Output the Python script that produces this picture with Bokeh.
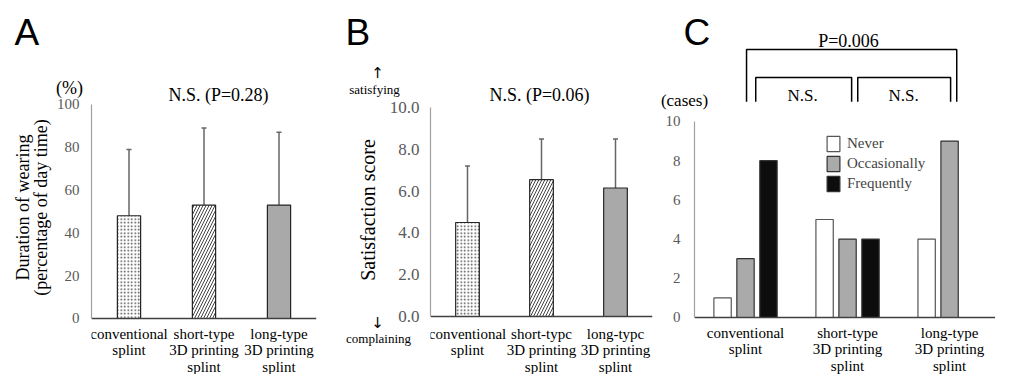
from bokeh.plotting import figure
from bokeh.models import Range1d, FixedTicker, Whisker, TeeHead, ColumnDataSource, PrintfTickFormatter
from bokeh.layouts import row, column
from bokeh.embed import file_html
from bokeh.resources import INLINE
from bokeh.transform import dodge
from bokeh.core.properties import value

SERIF = "Liberation Serif"
SANS = "Liberation Sans"

# ---------------- data ----------------
cat_labels_a = ["conventional\nsplint", "short-type\n3D printing\nsplint", "long-type\n3D printing\nsplint"]
cat_labels_b = ["conventional\nsplint", "short-typc\n3D printing\nsplint", "long-typc\n3D printing\nsplint"]

# A: duration of wearing (% of day time)
wear_mean = [48, 53, 53]
wear_lower = [17, 17, 19]
wear_upper = [79, 89, 87]
wear_ticks = [0, 20, 40, 60, 80, 100]

# B: satisfaction score
sat_mean = [4.5, 6.55, 6.15]
sat_lower = [2.0, 4.5, 3.8]
sat_upper = [7.2, 8.5, 8.5]
sat_ticks = [0, 2, 4, 6, 8, 10]

# C: cases
never = [1, 5, 4]
occasionally = [3, 4, 9]
frequently = [8, 4, 0]
case_ticks = [0, 2, 4, 6, 8, 10]

# ---------------- layout / style constants ----------------
H = 374
TOP = 40                   # common top border; frames run down to the canvas bottom
pos = [0.5, 1.5, 2.5]
bar_fill = ["white", "white", "#a9a9a9"]
bar_hatch = ["dot", "right_diagonal_line", "blank"]
bar_hscale = [3.5, 6.0, 4.0]


def base_fig(width, fl, fr, xr, yr):
    p = figure(width=width, height=H, x_range=xr, y_range=yr, output_backend="svg",
               toolbar_location=None, min_border_left=fl, min_border_right=fr,
               min_border_top=TOP, min_border_bottom=0)
    p.outline_line_color = None
    p.grid.visible = False
    p.background_fill_color = "white"
    p.border_fill_color = "white"
    return p


def style_axes(p, labels, label_y, ybounds, ysize, ystand):
    xa = p.xaxis[0]
    xa.fixed_location = 0          # category axis line sits on y = 0
    xa.ticker = FixedTicker(ticks=[])
    xa.major_tick_line_color = None
    xa.minor_tick_line_color = None
    xa.major_tick_out = 0
    xa.major_tick_in = 0
    xa.minor_tick_out = 0
    xa.major_label_standoff = 0
    xa.axis_line_color = "#404040"
    xa.axis_line_width = 1.3
    # category names hang below the axis line, positioned through the plot's scales
    src = ColumnDataSource(dict(x=pos, y=[label_y] * 3, text=labels))
    p.text(x="x", y="y", text="text", source=src, text_font=value(SERIF), text_font_size="15px",
           text_align="center", text_baseline="top", text_line_height=1.05, text_color="black")
    ya = p.yaxis[0]
    ya.bounds = ybounds
    ya.major_tick_line_color = None
    ya.minor_tick_line_color = None
    ya.major_tick_out = 0
    ya.major_tick_in = 0
    ya.minor_tick_out = 0
    ya.axis_line_color = "#a0a0a0"
    ya.axis_line_width = 1.2
    ya.major_label_text_font = SERIF
    ya.major_label_text_font_size = ysize
    ya.major_label_text_color = "#595959"
    ya.major_label_standoff = ystand
    ya.axis_label_text_font = SERIF
    ya.axis_label_text_font_style = "normal"
    ya.axis_label_text_color = "black"
    ya.axis_label_text_line_height = 0.9


def add_whisker(p, src):
    w = Whisker(base="x", upper="hi", lower="lo", source=src, line_color="#666666", line_width=1.5,
                upper_head=TeeHead(size=5, line_color="#666666", line_width=1.5),
                lower_head=TeeHead(size=5, line_color="#666666", line_width=1.5))
    p.add_layout(w)


# ---------------- panel A ----------------
pA = base_fig(326, 91, 10, Range1d(0, 3), Range1d(-26.17, 129.9))
srcA = ColumnDataSource(dict(x=pos, top=wear_mean, lo=wear_lower, hi=wear_upper,
                             fill=bar_fill, hatch=bar_hatch, hs=bar_hscale))
pA.vbar(x="x", top="top", width=0.31, source=srcA, fill_color="fill", line_color="#262626",
        line_width=1.2, hatch_pattern="hatch", hatch_color="#444444", hatch_scale="hs", hatch_weight=1)
add_whisker(pA, srcA)
style_axes(pA, cat_labels_a, -3.3, (0, 100), "15px", 12)
pA.yaxis[0].ticker = FixedTicker(ticks=wear_ticks)
pA.yaxis[0].axis_label = "Duration of wearing\n(percentage of day time)"
pA.yaxis[0].axis_label_text_font_size = "18px"
pA.yaxis[0].axis_label_standoff = 3

# ---------------- panel B ----------------
pB = base_fig(334, 104, 8, Range1d(0, 3), Range1d(-2.775, 13.21))
srcB = ColumnDataSource(dict(x=pos, top=sat_mean, lo=sat_lower, hi=sat_upper,
                             fill=bar_fill, hatch=bar_hatch, hs=bar_hscale))
pB.vbar(x="x", top="top", width=0.32, source=srcB, fill_color="fill", line_color="#262626",
        line_width=1.2, hatch_pattern="hatch", hatch_color="#444444", hatch_scale="hs", hatch_weight=1)
add_whisker(pB, srcB)
style_axes(pB, cat_labels_b, -0.43, (0, 10), "17px", 11)
pB.yaxis[0].ticker = FixedTicker(ticks=sat_ticks)
pB.yaxis[0].formatter = PrintfTickFormatter(format="%.1f")
pB.yaxis[0].axis_label = "Satisfaction  score"
pB.yaxis[0].axis_label_text_font_size = "20px"
pB.yaxis[0].axis_label_standoff = 8

# ---------------- panel C ----------------
pC = base_fig(335, 34, 0, Range1d(0, 2.95), Range1d(-2.908, 14.13))
srcC = ColumnDataSource(dict(x=pos, never=never, occ=occasionally, freq=frequently))
pC.vbar(x=dodge("x", -0.225), top="never", width=0.17, source=srcC, fill_color="white",
        line_color="#555555", line_width=1.2, legend_label="Never")
pC.vbar(x=dodge("x", 0.0), top="occ", width=0.17, source=srcC, fill_color="#aaaaaa",
        line_color="#333333", line_width=1.2, legend_label="Occasionally")
pC.vbar(x=dodge("x", 0.225), top="freq", width=0.17, source=srcC, fill_color="#0d0d0d",
        line_color="#333333", line_width=1.2, legend_label="Frequently")
style_axes(pC, cat_labels_a, -0.36, (0, 10), "15px", 14)
pC.yaxis[0].ticker = FixedTicker(ticks=case_ticks)
lg = pC.legend[0]
lg.location = (131, 181)
lg.padding = 0
lg.margin = 0
lg.spacing = 1
lg.glyph_width = 16
lg.glyph_height = 19
lg.label_height = 19
lg.label_standoff = 6
lg.label_text_font = SERIF
lg.label_text_font_size = "15px"
lg.background_fill_alpha = 0
lg.border_line_alpha = 0

# significance brackets (annotation geometry, in data units of panel C)
pC.multi_line(xs=[[0.51, 0.51, 2.57, 2.57], [0.60, 0.60, 1.54, 1.54], [1.60, 1.60, 2.51, 2.51]],
              ys=[[11.0, 13.67, 13.67, 11.0], [11.0, 12.24, 12.24, 11.0], [11.0, 12.24, 12.24, 11.0]],
              line_color="black", line_width=1.5)
pC.text(x=[1.06, 2.05], y=[11.33, 11.33], text=["N.S.", "N.S."], text_font=value(SERIF),
        text_font_size="17px", text_align="center", text_baseline="middle", text_color="black")

# ---------------- transparent overlay for texts outside the plot frames ----------------
ov = figure(width=995, height=H, x_range=Range1d(0, 995), y_range=Range1d(374, 0),
            output_backend="svg", toolbar_location=None, x_axis_type=None, y_axis_type=None,
            min_border=0, margin=(-H, 0, 0, 0))
ov.outline_line_color = None
ov.grid.visible = False
ov.background_fill_alpha = 0
ov.border_fill_alpha = 0
letters = ColumnDataSource(dict(x=[14, 345, 683], y=[32, 32, 32], text=["A", "B", "C"]))
ov.text(x="x", y="y", text="text", source=letters, text_font=value(SANS), text_font_size="37px",
        text_align="left", text_baseline="middle", text_color="black")
notes = ColumnDataSource(dict(
    x=[69, 218, 374, 378, 539, 684, 848],
    y=[87, 94, 89, 338, 94, 100, 40],
    text=["(%)", "N.S. (P=0.28)", "satisfying", "complaining", "N.S. (P=0.06)", "(cases)", "P=0.006"],
    size=["18px", "18px", "13px", "13px", "18px", "17px", "18px"],
))
ov.text(x="x", y="y", text="text", source=notes, text_font=value(SERIF), text_font_size="size",
        text_align="center", text_baseline="middle", text_color="black")
arrows = ColumnDataSource(dict(x=[377, 377], y=[72, 322], text=["\u2191", "\u2193"]))
ov.text(x="x", y="y", text="text", source=arrows, text_font=value("DejaVu Sans"),
        text_font_size="15px", text_align="center", text_baseline="middle", text_color="black")

layout = column(row(pA, pB, pC), ov)
open("out.html", "w").write(file_html(layout, INLINE))
